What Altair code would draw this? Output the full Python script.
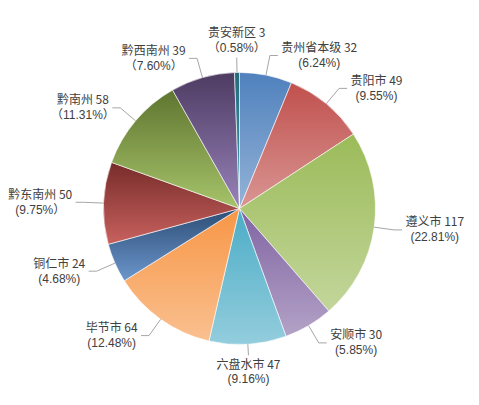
import altair as alt
import pandas as pd

# ---- data ----
names = ["贵州省本级", "贵阳市", "遵义市", "安顺市", "六盘水市", "毕节市",
         "铜仁市", "黔东南州", "黔南州", "黔西南州", "贵安新区"]
values = [32, 49, 117, 30, 47, 64, 24, 50, 58, 39, 3]
pct_labels = ["(6.24%)", "(9.55%)", "(22.81%)", "(5.85%)", "(9.16%)", "(12.48%)",
              "(4.68%)", "(9.75%）", "（11.31%）", "（7.60%）", "（0.58%）"]

# gradient colours (top -> bottom) per slice
top_colors = ["#4f81bd", "#c0504d", "#9bbb59", "#8064a2", "#4bacc6", "#f79646",
              "#2c4d75", "#772c2a", "#5f7530", "#4d3b62", "#276a7c"]
bottom_colors = ["#95b3d7", "#d99694", "#c3d69b", "#b3a2c7", "#93cddd", "#fac090",
                 "#6c96cc", "#c8615e", "#a6c46a", "#9882b9", "#3f9fb9"]

df = pd.DataFrame({"order": list(range(len(names))), "name": names,
                   "value": values, "pct": pct_labels})

# ---- layout ----
W, H = 463, 389
CX, CY = 231.5, 200.5
R = 136
FONT = "Noto Sans CJK SC"
FONT2 = "Liberation Sans, Noto Sans CJK SC"

xs = alt.Scale(domain=[-CX, W - CX], nice=False, zero=False)
ys = alt.Scale(domain=[-(H - CY), CY], nice=False, zero=False)

base = (
    alt.Chart(df)
    .transform_joinaggregate(total="sum(value)")
    .transform_window(cum="sum(value)", sort=[alt.SortField("order")], frame=[None, 0])
    .transform_calculate(
        t0="(datum.cum - datum.value) / datum.total",
        t1="datum.cum / datum.total",
        mid="2 * PI * (datum.cum - datum.value / 2) / datum.total",
    )
    .transform_calculate(s="sin(datum.mid)", c="cos(datum.mid)")
    .transform_calculate(side="datum.s > 0.1 ? 1 : (datum.s < -0.1 ? -1 : 0)")
    .transform_calculate(rl="datum.side == 0 ? (datum.c > 0 ? 151 : 147) : 156")
    .transform_calculate(
        ex=f"{R} * datum.s", ey=f"{R} * datum.c",
        bx="datum.rl * datum.s", by="datum.rl * datum.c",
        w1="12 * length(datum.name) + 3.4 + 6.7 * length(toString(datum.value))",
    )
    .transform_calculate(
        hx="datum.bx + datum.side * 8",
        lx="datum.side == 0 ? datum.bx : datum.bx + datum.side * (11 + datum.w1 / 2)",
        line1="datum.name + ' ' + datum.value",
    )
)

theta_scale = alt.Scale(domain=[0, 1], range=[0, 6.283185307179586])

layers = []
for n, tc, bc in zip(names, top_colors, bottom_colors):
    grad = alt.Gradient(
        gradient="linear", x1=0, y1=0, x2=0, y2=1,
        stops=[alt.GradientStop(color=tc, offset=0), alt.GradientStop(color=bc, offset=1)],
    )
    layers.append(
        base.transform_filter(alt.datum.name == n)
        .mark_arc(outerRadius=R, fill=grad, stroke="#ffffff", strokeWidth=0.6)
        .encode(
            theta=alt.Theta("t0:Q", scale=theta_scale),
            theta2="t1:Q",
            x=alt.value(CX),
            y=alt.value(CY),
        )
    )

line_color = "#a6a6a6"
rule1 = base.mark_rule(color=line_color, strokeWidth=1).encode(
    x=alt.X("ex:Q", scale=xs, axis=None), y=alt.Y("ey:Q", scale=ys, axis=None),
    x2="bx:Q", y2="by:Q",
)
rule2 = base.mark_rule(color=line_color, strokeWidth=1).encode(
    x=alt.X("bx:Q", scale=xs, axis=None), y=alt.Y("by:Q", scale=ys, axis=None),
    x2="hx:Q", y2="by:Q",
)

def text_layer(filt, field, dy, font):
    return base.transform_filter(filt).mark_text(
        align="center", baseline="middle", dy=dy,
        fontSize=12, font=font, color="#404040",
    ).encode(
        x=alt.X("lx:Q", scale=xs, axis=None), y=alt.Y("by:Q", scale=ys, axis=None),
        text=f"{field}:N",
    )

groups = [
    ("datum.side != 0", -7.5, 7.5),
    ("datum.side == 0 && datum.c > 0", -25, -10),
    ("datum.side == 0 && datum.c <= 0", 10, 24),
]
texts = []
for filt, d1, d2 in groups:
    texts.append(text_layer(filt, "line1", d1, FONT))
    texts.append(text_layer(filt, "pct", d2, FONT2))

chart = (
    alt.layer(*layers, rule1, rule2, *texts)
    .properties(width=W, height=H, autosize="none", padding=0, background="#ffffff")
    .configure_view(stroke=None)
)

chart.save("out.html", embed_options={"renderer": "svg", "actions": False})
